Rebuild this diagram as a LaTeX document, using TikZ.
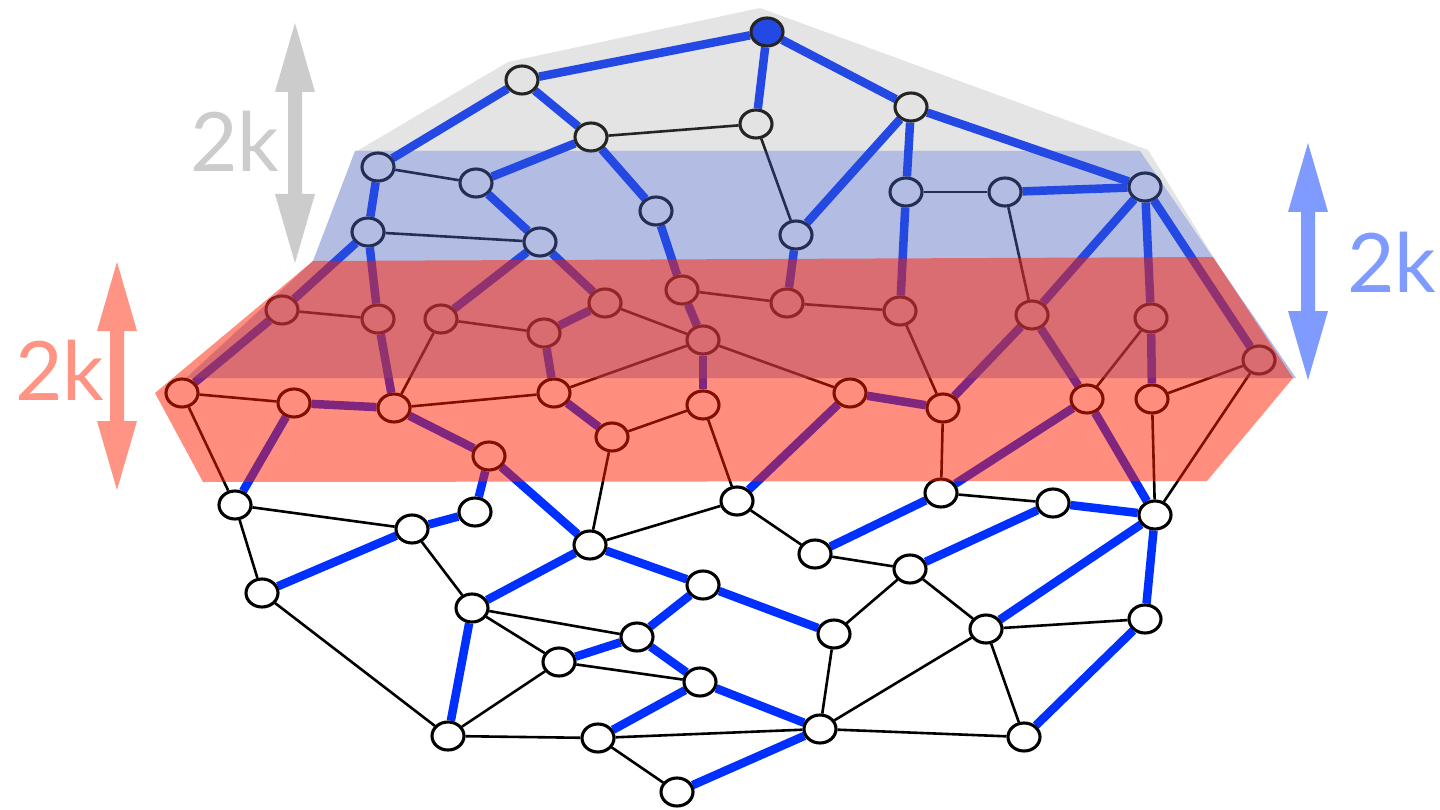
\documentclass[tikz,border=0pt]{standalone}
\usepackage{fontspec}
\setsansfont{Lato}
\usetikzlibrary{shapes.geometric}
\definecolor{edgeblue}{RGB}{0,48,255}
\definecolor{hullgray}{RGB}{146,146,146}
\definecolor{bandblue}{RGB}{82,104,191}
\definecolor{bandred}{RGB}{255,30,0}
\definecolor{arrgray}{RGB}{204,204,204}
\definecolor{arrblue}{RGB}{127,155,255}
\definecolor{arrred}{RGB}{255,148,132}
\pgfdeclarelayer{edgelayer}
\pgfdeclarelayer{bandlayer}
\pgfsetlayers{edgelayer,main,bandlayer}
% vertical double-headed block arrow: x, top tip y, bottom tip y, colour
\newcommand{\vdoublearrow}[4]{%
  \fill[#4] (#1,#2) -- (#1+20,#2+69) -- (#1+7,#2+69) -- (#1+7,#3-69) -- (#1+20,#3-69)
    -- (#1,#3) -- (#1-20,#3-69) -- (#1-7,#3-69) -- (#1-7,#2+69) -- (#1-20,#2+69) -- cycle;}
\begin{document}
\begin{tikzpicture}[x=1pt,y=-1pt,
  nd/.style={ellipse, draw=black, line width=3.1pt, fill=white,
    minimum width=32pt, minimum height=28pt, inner sep=0pt},
  rootnd/.style={nd, fill=edgeblue},
  be/.style={draw=edgeblue, line width=8.5pt},
  ke/.style={draw=black, line width=2.6pt},
  lab/.style={inner sep=0pt, anchor=base, font=\fontsize{82}{82}\selectfont\sffamily}]
\useasboundingbox (0,0) rectangle (1440,810);

% vertices
\node[rootnd] (R) at (767,32) {};
\node[nd] (a1) at (522,80) {};
\node[nd] (a2) at (591,137) {};
\node[nd] (a3) at (756,124) {};
\node[nd] (a4) at (911,107) {};
\node[nd] (b1) at (378,167) {};
\node[nd] (b2) at (476,183) {};
\node[nd] (b3) at (656,211) {};
\node[nd] (b4) at (796,235) {};
\node[nd] (b5) at (368,232) {};
\node[nd] (b6) at (540,242) {};
\node[nd] (b7) at (906,192) {};
\node[nd] (b8) at (1005,192) {};
\node[nd] (b9) at (1145,187) {};
\node[nd] (c1) at (282,310) {};
\node[nd] (c2) at (378,319) {};
\node[nd] (c3) at (441,319) {};
\node[nd] (c4) at (544,333) {};
\node[nd] (c5) at (605,303) {};
\node[nd] (c6) at (682,290) {};
\node[nd] (c7) at (787,303) {};
\node[nd] (c8) at (703,340) {};
\node[nd] (c9) at (900,311) {};
\node[nd] (c10) at (1032,315) {};
\node[nd] (c11) at (1151,318) {};
\node[nd] (c12) at (1259,360) {};
\node[nd] (d1) at (182,393) {};
\node[nd] (d2) at (294,403) {};
\node[nd] (d3) at (394,408) {};
\node[nd] (d4) at (554,393) {};
\node[nd] (d5) at (703,405) {};
\node[nd] (d6) at (612,437) {};
\node[nd] (d7) at (489,456) {};
\node[nd] (d8) at (850,393) {};
\node[nd] (d9) at (943,408) {};
\node[nd] (d10) at (1087,399) {};
\node[nd] (d11) at (1152,399) {};
\node[nd] (e1) at (235,505) {};
\node[nd] (e2) at (412,529) {};
\node[nd] (e3) at (475,512) {};
\node[nd] (e4) at (590,545) {};
\node[nd] (e5) at (737,501) {};
\node[nd] (e6) at (815,554) {};
\node[nd] (e7) at (941,493) {};
\node[nd] (e8) at (1053,503) {};
\node[nd] (e9) at (1155,515) {};
\node[nd] (e10) at (262,593) {};
\node[nd] (e11) at (472,608) {};
\node[nd] (e12) at (703,585) {};
\node[nd] (e13) at (910,569) {};
\node[nd] (e14) at (637,637) {};
\node[nd] (e15) at (559,662) {};
\node[nd] (e16) at (834,634) {};
\node[nd] (e17) at (986,629) {};
\node[nd] (e18) at (1145,619) {};
\node[nd] (e19) at (700,682) {};
\node[nd] (e20) at (448,736) {};
\node[nd] (e21) at (598,738) {};
\node[nd] (e22) at (820,729) {};
\node[nd] (e23) at (1024,737) {};
\node[nd] (e24) at (677,792) {};

\begin{pgfonlayer}{edgelayer}
  % tree edges
  \foreach \u/\v in {R/a1, R/a3, R/a4, a1/b1, a1/a2, a2/b2, a2/b3, a4/b4, a4/b7, a4/b9,
      b1/b5, b2/b6, b5/c1, b5/c2, b6/c3, b6/c5, b3/c6, b4/c7, b7/c9, b8/b9, b9/c10,
      b9/c11, b9/c12, c1/d1, c2/d3, c4/c5, c4/d4, c6/c8, c8/d5, c10/d9, c10/d10,
      c11/d11, d2/d3, d2/e1, d3/d7, d4/d6, d7/e3, d7/e4, d8/d9, d8/e5, d10/e7, d10/e9,
      e2/e3, e10/e2, e4/e11, e4/e12, e6/e7, e8/e9, e13/e8, e17/e9, e9/e18, e18/e23,
      e12/e16, e12/e14, e14/e19, e15/e14, e19/e22, e21/e19, e24/e22, e11/e20}
    \draw[be] (\u) -- (\v);
  % remaining edges
  \foreach \u/\v in {a2/a3, a3/b4, b1/b2, b5/b6, b7/b8, b8/c10, c1/c2, c3/c4, c3/d3,
      c5/c8, c6/c7, c7/c9, c8/d4, c8/d8, c9/d9, d1/d2, d3/d4, d1/e1, d5/d6, d6/e4,
      d5/e5, d9/e7, d10/c11, d11/c12, c12/e9, d11/e9, e1/e2, e1/e10, e2/e11, e5/e4,
      e5/e6, e7/e8, e6/e13, e13/e16, e13/e17, e17/e18, e17/e23, e17/e22, e22/e23,
      e16/e22, e11/e14, e11/e15, e15/e19, e10/e20, e20/e15, e20/e21, e21/e22, e21/e24}
    \draw[ke] (\u) -- (\v);
\end{pgfonlayer}

\begin{pgfonlayer}{bandlayer}
  % translucent layers over the graph
  \fill[hullgray, opacity=0.25] (357,151) -- (508,62) -- (760,8) -- (1148,150)
    -- (1214,258) -- (1140,151) -- cycle;
  \fill[bandblue, opacity=0.44] (355,151) -- (1140,151) -- (1296,378) -- (186,378)
    -- (313,261) -- cycle;
  \fill[bandred, opacity=0.5] (313,261) -- (1213,257) -- (1293,378) -- (1207,481)
    -- (203,482) -- (155,393) -- cycle;
  % widths of the layers
  \vdoublearrow{295}{23}{263}{arrgray}
  \vdoublearrow{1308}{143}{380}{arrblue}
  \vdoublearrow{117}{262}{490}{arrred}
  \node[lab, text=arrgray] (lgray) at (235,172) {2k};
  \node[lab, text=arrblue] (lblue) at (1392,293) {2k};
  \node[lab, text=arrred] (lred) at (60,400) {2k};
\end{pgfonlayer}
\end{tikzpicture}
\end{document}
